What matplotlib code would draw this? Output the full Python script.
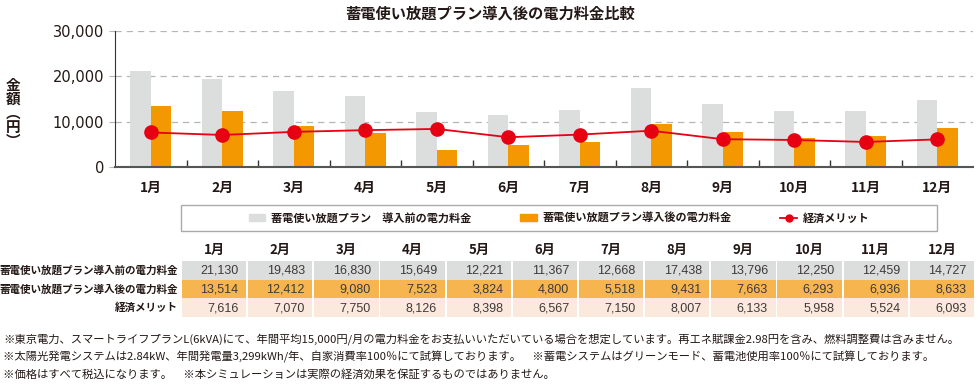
import matplotlib
matplotlib.use('Agg')
import matplotlib.pyplot as plt
from matplotlib.patches import Rectangle, Patch
from matplotlib.lines import Line2D
import numpy as np

plt.rcParams['font.family'] = ['Noto Sans CJK JP', 'DejaVu Sans']

months = ['1月', '2月', '3月', '4月', '5月', '6月', '7月', '8月', '9月', '10月', '11月', '12月']
before = [21130, 19483, 16830, 15649, 12221, 11367, 12668, 17438, 13796, 12250, 12459, 14727]
after = [13514, 12412, 9080, 7523, 3824, 4800, 5518, 9431, 7663, 6293, 6936, 8633]
merit = [7616, 7070, 7750, 8126, 8398, 6567, 7150, 8007, 6133, 5958, 5524, 6093]

title = '蓄電使い放題プラン導入後の電力料金比較'
lbl_before = '蓄電使い放題プラン　導入前の電力料金'
lbl_after = '蓄電使い放題プラン導入後の電力料金'
lbl_merit = '経済メリット'
row_labels = ['蓄電使い放題プラン導入前の電力料金', '蓄電使い放題プラン導入後の電力料金', '経済メリット']
notes = [
    '※東京電力、スマートライフプランL(6kVA)にて、年間平均15,000円/月の電力料金をお支払いいただいている場合を想定しています。再エネ賦課金2.98円を含み、燃料調整費は含みません。',
    '※太陽光発電システムは2.84kW、年間発電量3,299kWh/年、自家消費率100％にて試算しております。　※蓄電システムはグリーンモード、蓄電池使用率100％にて試算しております。',
    '※価格はすべて税込になります。　※本シミュレーションは実際の経済効果を保証するものではありません。',
]

c_gray = '#dcdddd'
c_orange = '#f39800'
c_red = '#e60012'
row_colors = ['#dcdddd', '#f6b54e', '#fce9de']

W, H = 980, 391
fig = plt.figure(figsize=(W / 100, H / 100), dpi=100)

# --- bar chart ---
ax = fig.add_axes([115 / W, 1 - 167 / H, 858 / W, 136 / H])
x = np.arange(len(months))
bw = 0.285
ax.bar(x - bw / 2, before, bw, color=c_gray, zorder=2)
ax.bar(x + bw / 2, after, bw, color=c_orange, zorder=2)
ax.plot(x, merit, color=c_red, lw=1.3, marker='o', ms=9.5, zorder=3)
ax.set_xlim(-0.5, len(months) - 0.5)
ax.set_ylim(0, 30000)
ax.set_yticks([0, 10000, 20000, 30000])
ax.set_yticklabels([f'{v:,}' for v in [0, 10000, 20000, 30000]], family='DejaVu Sans', fontsize=10.5, color='#231815')
ax.yaxis.grid(True, color='#b5b5b5', ls=(0, (5, 4)), lw=0.9, zorder=0)
ax.tick_params(axis='y', length=4, color='#b5b5b5', pad=4)
ax.set_xticks(x)
ax.set_xticklabels(months, fontsize=10, fontweight='bold', color='#231815')
ax.tick_params(axis='x', length=0, pad=10)
ax.set_xticks(np.arange(0.5, len(months) - 1, 1), minor=True)
ax.tick_params(axis='x', which='minor', direction='in', length=5, color='#333333', width=1)
for s in ['top', 'right']:
    ax.spines[s].set_visible(False)
ax.spines['left'].set_color('#333333')
ax.spines['bottom'].set_color('#555555')
ax.spines['bottom'].set_linewidth(1.5)

fig.text(490 / W, 1 - 14 / H, title, ha='center', va='center', fontsize=11, fontweight='bold', color='#231815')
fig.text(13 / W, 1 - 113 / H, '金\n額\n︵\n円\n︶', ha='center', va='center', fontsize=10.5,
         fontweight='bold', linespacing=0.86, color='#231815')

# --- legend ---
fig.patches.append(Rectangle((181 / W, 1 - 231 / H), 756 / W, 26 / H, transform=fig.transFigure,
                             facecolor='white', edgecolor='#aaaaaa', lw=1))
handles = [Patch(color=c_gray), Patch(color=c_orange),
           Line2D([], [], color=c_red, lw=1.3, marker='o', ms=5)]
leg = fig.legend(handles, [lbl_before, lbl_after, lbl_merit], loc='center', ncol=3,
                 bbox_to_anchor=(559 / W, 1 - 218 / H), frameon=False,
                 prop={'size': 8, 'weight': 'bold'}, handlelength=1.5, handleheight=0.6,
                 handletextpad=0.5, columnspacing=4.4)
for t in leg.get_texts():
    t.set_color('#231815')

# --- data table ---
ta = fig.add_axes([181 / W, 1 - 317 / H, 794 / W, 56 / H])
ta.set_xlim(0, len(months))
ta.set_ylim(3, 0)
ta.axis('off')
rows = [before, after, merit]
for r, vals in enumerate(rows):
    for i, v in enumerate(vals):
        ta.add_patch(Rectangle((i + 0.015, r), 0.97, 1, facecolor=row_colors[r], edgecolor='none'))
        ta.text(i + 0.87, r + 0.52, f'{v:,}', ha='right', va='center', fontsize=9,
                family='Liberation Sans', color='#3e3a39')
    ta.text(-0.045, r + 0.52, row_labels[r], ha='right', va='center', fontsize=7.6,
            fontweight='bold', color='#231815', clip_on=False)
for i, m in enumerate(months):
    ta.text(i + 0.5, -0.6, m, ha='center', va='center', fontsize=9.5, fontweight='bold',
            color='#231815', clip_on=False)

# --- footnotes ---
for k, n in enumerate(notes):
    fig.text(3 / W, 1 - (339 + 17.5 * k) / H, n, ha='left', va='center', fontsize=8.15, color='#231815')

fig.savefig('out.png', dpi=100)
